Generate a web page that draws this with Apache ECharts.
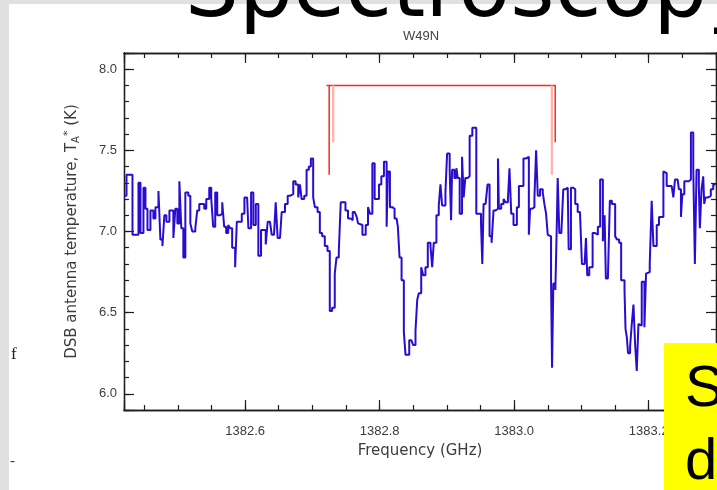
<!DOCTYPE html>
<html>
<head>
<meta charset="utf-8">
<title>W49N</title>
<script src="https://cdn.jsdelivr.net/npm/echarts@6/dist/echarts.min.js"></script>
<style>
  html, body { margin: 0; padding: 0; background: #fff; }
  #m1 { width: 717px; height: 490px; }
</style>
</head>
<body>
<div id="m1"></div>
<script>
// spectrum channels (GHz, K)
var freqGHz = [
    1382.4200, 1382.4237, 1382.4282, 1382.4326, 1382.4371, 1382.4415, 1382.4445, 1382.4489, 1382.4519, 1382.4549,
    1382.4593, 1382.4637, 1382.4667, 1382.4712, 1382.4741, 1382.4771, 1382.4800, 1382.4830, 1382.4875, 1382.4904,
    1382.4934, 1382.4963, 1382.4993, 1382.5023, 1382.5052, 1382.5082, 1382.5112, 1382.5156, 1382.5186, 1382.5215,
    1382.5260, 1382.5289, 1382.5319, 1382.5363, 1382.5393, 1382.5423, 1382.5467, 1382.5497, 1382.5526, 1382.5556,
    1382.5586, 1382.5630, 1382.5660, 1382.5689, 1382.5719, 1382.5749, 1382.5778, 1382.5808, 1382.5852,
    1382.5877, 1382.5911, 1382.5951, 1382.5990, 1382.6030, 1382.6049, 1382.6089, 1382.6123, 1382.6159, 1382.6197,
    1382.6237, 1382.6277, 1382.6307, 1382.6336, 1382.6370, 1382.6396, 1382.6430, 1382.6455, 1382.6484, 1382.6519,
    1382.6544, 1382.6593, 1382.6633, 1382.6667, 1382.6716, 1382.6751, 1382.6790, 1382.6815, 1382.6840, 1382.6879,
    1382.6914, 1382.6948, 1382.6978, 1382.7012, 1382.7037, 1382.7077, 1382.7111, 1382.7145, 1382.7185, 1382.7225,
    1382.7259, 1382.7293, 1382.7333, 1382.7359, 1382.7393, 1382.7422, 1382.7456, 1382.7492, 1382.7530, 1382.7570,
    1382.7600, 1382.7630, 1382.7659, 1382.7679, 1382.7708, 1382.7744, 1382.7767, 1382.7793, 1382.7827, 1382.7856,
    1382.7892, 1382.7926, 1382.7956, 1382.7990, 1382.8025, 1382.8064, 1382.8104, 1382.8123, 1382.8153, 1382.8188,
    1382.8222, 1382.8252, 1382.8271, 1382.8296, 1382.8326, 1382.8360, 1382.8385, 1382.8410, 1382.8440, 1382.8470,
    1382.8499, 1382.8533, 1382.8559, 1382.8582, 1382.8618, 1382.8647, 1382.8681, 1382.8716, 1382.8756, 1382.8781,
    1382.8804, 1382.8844, 1382.8879, 1382.8904, 1382.8929, 1382.8953, 1382.8978, 1382.9003, 1382.9041, 1382.9062,
    1382.9077, 1382.9111, 1382.9141, 1382.9160, 1382.9190, 1382.9225, 1382.9249, 1382.9274, 1382.9308, 1382.9338,
    1382.9378, 1382.9407, 1382.9437, 1382.9477, 1382.9507, 1382.9526, 1382.9545, 1382.9575, 1382.9604, 1382.9634,
    1382.9664, 1382.9693, 1382.9723, 1382.9759, 1382.9773, 1382.9807, 1382.9842, 1382.9871, 1382.9907, 1382.9930,
    1382.9956, 1382.9990, 1383.0019, 1383.0040, 1383.0070, 1383.0104, 1383.0138, 1383.0178, 1383.0203, 1383.0218,
    1383.0237, 1383.0267, 1383.0301, 1383.0326, 1383.0351, 1383.0385, 1383.0425, 1383.0449, 1383.0474, 1383.0499,
    1383.0523, 1383.0548, 1383.0563, 1383.0582, 1383.0612, 1383.0633, 1383.0647, 1383.0671, 1383.0701, 1383.0730,
    1383.0760, 1383.0796, 1383.0810, 1383.0844, 1383.0878, 1383.0908, 1383.0944, 1383.0978, 1383.1007,
    1383.1047, 1383.1067, 1383.1086, 1383.1116, 1383.1145, 1383.1166, 1383.1204, 1383.1244, 1383.1278, 1383.1304,
    1383.1318, 1383.1344, 1383.1363, 1383.1393, 1383.1422, 1383.1452, 1383.1477, 1383.1501, 1383.1530, 1383.1560,
    1383.1590, 1383.1619, 1383.1640, 1383.1655, 1383.1674, 1383.1693, 1383.1723, 1383.1748, 1383.1773, 1383.1797,
    1383.1822, 1383.1847, 1383.1871, 1383.1896, 1383.1922, 1383.1936, 1383.1960, 1383.1985, 1383.2015, 1383.2044,
    1383.2070, 1383.2093, 1383.2119, 1383.2153, 1383.2182, 1383.2218, 1383.2241, 1383.2267, 1383.2301, 1383.2341,
    1383.2366, 1383.2390, 1383.2430, 1383.2449, 1383.2479, 1383.2499, 1383.2529, 1383.2563, 1383.2597, 1383.2627,
    1383.2662, 1383.2686, 1383.2711, 1383.2745, 1383.2760, 1383.2785, 1383.2810, 1383.2825, 1383.2844, 1383.2884,
    1383.2923, 1383.2959, 1383.2995
];
var tempK = [
    7.22, 7.35, 7.35, 6.98, 6.98, 7.30, 6.99, 7.27, 7.14, 7.01,
    7.13, 7.08, 7.15, 7.25, 6.95, 6.91, 7.10, 7.06, 7.13, 7.13,
    6.96, 7.14, 7.05, 7.31, 7.02, 6.84, 7.24, 7.22, 7.05, 7.00,
    7.02, 7.13, 7.17, 7.17, 7.14, 7.20, 7.27, 7.20, 7.03, 7.24,
    7.10, 7.11, 7.18, 7.03, 6.99, 7.04, 7.02, 6.90, 6.78,
    7.06, 7.06, 7.11, 7.21, 7.21, 7.02, 7.24, 7.04, 7.17, 6.85,
    7.01, 7.01, 6.92, 7.06, 7.06, 6.98, 6.97, 7.18, 6.96, 6.95,
    7.12, 7.17, 7.22, 7.23, 7.31, 7.29, 7.21, 7.29, 7.20, 7.22,
    7.38, 7.40, 7.45, 7.21, 7.15, 7.12, 6.99, 6.97, 6.91, 6.88,
    6.51, 6.53, 6.74, 6.84, 6.88, 7.18, 7.18, 7.13, 7.08, 7.07,
    7.12, 7.11, 7.09, 7.05, 7.04, 6.98, 6.98, 7.04, 7.15, 7.11,
    7.42, 7.20, 7.20, 7.29, 7.34, 7.43, 7.03, 7.37, 7.15, 7.14,
    7.08, 7.08, 7.03, 6.84, 6.70, 6.38, 6.24, 6.24, 6.33, 6.34,
    6.30, 6.39, 6.58, 6.62, 6.78, 6.73, 6.78, 6.93, 6.91, 6.78,
    6.93, 7.10, 7.16, 7.29, 7.16, 7.16, 7.24, 7.48, 7.38, 7.07,
    7.38, 7.33, 7.39, 7.33, 7.11, 7.46, 7.21, 7.33, 7.34, 7.59,
    7.64, 7.64, 7.11, 7.11, 7.05, 6.80, 7.17, 7.17, 7.29, 6.97,
    6.93, 7.13, 7.14, 7.45, 7.14, 7.17, 7.20, 7.18, 7.20, 7.39,
    7.11, 7.04, 7.04, 7.15, 7.28, 7.28, 7.45, 7.46, 7.46, 6.98,
    7.14, 7.15, 7.21, 7.50, 7.22, 7.26, 7.24, 7.17, 7.11, 6.98,
    6.97, 6.69, 6.16, 6.68, 6.64, 7.03, 7.33, 6.99, 6.99, 7.26,
    7.27, 7.27, 6.89, 7.27, 7.26, 7.17, 7.12, 7.11, 6.80,
    6.80, 6.96, 6.73, 6.78, 6.78, 6.99, 6.98, 7.03, 7.32, 7.32,
    6.94, 7.10, 6.71, 6.71, 7.19, 7.17, 7.17, 6.97, 6.95, 6.93,
    6.70, 6.70, 6.64, 6.40, 6.35, 6.25, 6.29, 6.43, 6.55, 6.31,
    6.14, 6.43, 6.42, 6.69, 6.69, 6.41, 6.74, 6.75, 6.80, 7.19,
    6.91, 6.91, 7.04, 7.09, 7.09, 7.37, 7.36, 7.28, 7.28, 7.28,
    7.21, 7.32, 7.32, 7.26, 7.09, 7.23, 7.31, 7.31, 7.32, 7.61,
    7.39, 6.80, 7.38, 7.28, 7.02, 7.26, 7.34, 7.17, 7.21, 7.22,
    7.26, 7.29, 7.29
];

// line markers (frequency, lower end in K)
var redMarks = [[1382.725, 7.35], [1383.061, 7.55]];
var pinkMarks = [[1382.731, 7.55], [1383.056, 7.35]];
var bracketTop = 7.90;
var bracketSpan = [1382.721, 1383.062];

var freqRange = [1382.42, 1383.30];
var tempRange = [5.9, 8.1];

function initSpectrum() {
    var myChart = echarts.init(document.getElementById('m1'), null, { renderer: 'canvas' });

    var spectrum = freqGHz.map(function (f, i) { return [f, tempK[i]]; });

    function onStep(v, step) {
        var r = v / step;
        return Math.abs(r - Math.round(r)) < 1e-6;
    }

    var labelFont = {
        color: '#3c3c3c',
        fontSize: 13,
        fontFamily: 'Liberation Sans'
    };
    var nameFont = {
        color: '#3c3c3c',
        fontSize: 15,
        fontFamily: 'DejaVu Sans'
    };

    // IDL style box: major and minor ticks on all four sides, all pointing in
    function makeAxis(kind, pos, step, len, withLabel) {
        var range = kind === 'x' ? freqRange : tempRange;
        var ax = {
            type: 'value',
            position: pos,
            min: range[0],
            max: range[1],
            minInterval: step,
            maxInterval: step,
            splitNumber: 5,
            axisLine: { show: true, onZero: false, lineStyle: { color: '#1e1e1e', width: 1.3 } },
            axisTick: { show: true, inside: true, length: len, lineStyle: { color: '#1e1e1e', width: 1.2 } },
            axisLabel: { show: false },
            splitLine: { show: false }
        };
        if (withLabel) {
            ax.axisLabel = Object.assign({
                show: true,
                margin: kind === 'x' ? 15 : 7,
                formatter: function (v) { return onStep(v, step) ? v.toFixed(1) : ''; }
            }, labelFont);
        }
        return ax;
    }

    var xAxes = [
        makeAxis('x', 'bottom', 0.2, 10, true),
        makeAxis('x', 'bottom', 0.05, 5, false),
        makeAxis('x', 'top', 0.2, 10, false),
        makeAxis('x', 'top', 0.05, 5, false)
    ];
    xAxes[0].name = 'Frequency (GHz)';
    xAxes[0].nameLocation = 'middle';
    xAxes[0].nameGap = 34;
    xAxes[0].nameTextStyle = Object.assign({}, nameFont);

    var yAxes = [
        makeAxis('y', 'left', 0.5, 10, true),
        makeAxis('y', 'left', 0.1, 5, false),
        makeAxis('y', 'right', 0.5, 10, false),
        makeAxis('y', 'right', 0.1, 5, false)
    ];
    yAxes[0].name = 'DSB antenna temperature, T{sub|A}{sup|*} (K)';
    yAxes[0].nameLocation = 'middle';
    yAxes[0].nameGap = 43;
    yAxes[0].nameTextStyle = Object.assign({
        lineHeight: 18,
        rich: {
            sub: { fontSize: 10, color: '#3c3c3c', fontFamily: 'DejaVu Sans', lineHeight: 18, verticalAlign: 'bottom' },
            sup: { fontSize: 11, color: '#3c3c3c', fontFamily: 'DejaVu Sans', lineHeight: 18, verticalAlign: 'top' }
        }
    }, nameFont);

    function vline(f, low, color, width) {
        return {
            type: 'line', symbol: 'none', silent: true, z: 4,
            data: [[f, bracketTop], [f, low]],
            lineStyle: { color: color, width: width }
        };
    }

    var series = [
        {
            name: 'W49N',
            type: 'line',
            step: 'end',
            symbol: 'none',
            z: 3,
            data: spectrum,
            lineStyle: { color: '#2a0cd0', width: 2 }
        },
        {
            type: 'line', symbol: 'none', silent: true, z: 4,
            data: [[bracketSpan[0], bracketTop], [bracketSpan[1], bracketTop]],
            lineStyle: { color: '#f52a1c', width: 1.5 }
        }
    ];
    pinkMarks.forEach(function (m) { series.push(vline(m[0], m[1], '#ffb4b0', 2.4)); });
    redMarks.forEach(function (m) { series.push(vline(m[0], m[1], '#f52a1c', 1.5)); });

    var option = {
        animation: false,
        backgroundColor: '#ffffff',
        title: {
            text: 'W49N',
            left: 421,
            top: 30,
            padding: 0,
            textAlign: 'center',
            textStyle: { fontSize: 13, fontWeight: 'normal', color: '#444', fontFamily: 'Liberation Sans' }
        },
        grid: {
            left: 124,
            right: 1,
            top: 53,
            bottom: 80,
            outerBoundsMode: 'none'
        },
        xAxis: xAxes,
        yAxis: yAxes,
        series: series,
        // the slide around the plot
        graphic: [
            { type: 'rect', z: 1, silent: true, shape: { x: 0, y: 0, width: 9, height: 490 }, style: { fill: '#e0e0e0' } },
            { type: 'rect', z: 1, silent: true, shape: { x: 0, y: 0, width: 717, height: 4 }, style: { fill: '#e0e0e0' } },
            {
                type: 'text', z: 10, silent: true, x: 185, y: -6,
                style: { text: 'Spectroscopy', fill: '#000', font: '85px "DejaVu Sans"', verticalAlign: 'middle' }
            },
            {
                type: 'text', z: 10, silent: true, x: 11, y: 355,
                style: { text: 'f', fill: '#222', font: '17px "Liberation Serif"', verticalAlign: 'middle' }
            },
            {
                type: 'text', z: 10, silent: true, x: 10, y: 461,
                style: { text: '-', fill: '#333', font: '15px "Liberation Serif"', verticalAlign: 'middle' }
            },
            { type: 'rect', z: 100, silent: true, shape: { x: 664, y: 343, width: 53, height: 147 }, style: { fill: '#ffff00' } },
            {
                type: 'text', z: 101, silent: true, x: 685, y: 390,
                style: { text: 'S', fill: '#000', font: '58px "Liberation Sans"', verticalAlign: 'middle' }
            },
            {
                type: 'text', z: 101, silent: true, x: 685, y: 463,
                style: { text: 'd', fill: '#000', font: '58px "Liberation Sans"', verticalAlign: 'middle' }
            }
        ]
    };

    myChart.setOption(option);
}

initSpectrum();
</script>
</body>
</html>
